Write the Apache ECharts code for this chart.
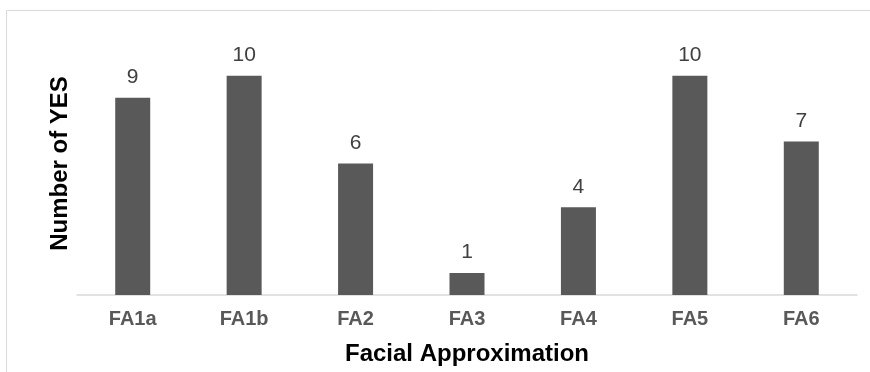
<!DOCTYPE html>
<html><head><meta charset="utf-8">
<style>html,body{margin:0;padding:0;background:#fff;}#c{width:870px;height:372px;}</style>
<script src="https://cdn.jsdelivr.net/npm/echarts@6/dist/echarts.min.js"></script>
</head><body><div id="c"></div>
<script>
const categories = ['FA1a','FA1b','FA2','FA3','FA4','FA5','FA6'];
const values = [9,10,6,1,4,10,7];
const chart = echarts.init(document.getElementById('c'));
chart.setOption({
  animation:false,
  graphic:[{type:'rect',shape:{x:6.5,y:10.5,width:900,height:400},style:{fill:'none',stroke:'#d9d9d9',lineWidth:1},silent:true}],
  grid:{left:77,right:13,top:32,bottom:77},
  xAxis:{type:'category',data:categories,
    axisLine:{lineStyle:{color:'#d9d9d9',width:1.5}},axisTick:{show:false},
    axisLabel:{color:'#595959',fontFamily:'Liberation Sans, Arial',fontWeight:'bold',fontSize:20,margin:14},
    name:'Facial Approximation',nameLocation:'middle',nameGap:47,
    nameTextStyle:{color:'#000',fontFamily:'Liberation Sans, Arial',fontWeight:'bold',fontSize:24}},
  yAxis:{type:'value',min:0,max:12,splitLine:{show:false},axisLabel:{show:false},axisLine:{show:false},axisTick:{show:false},
    name:'Number of YES',nameLocation:'middle',nameGap:5,
    nameTextStyle:{color:'#000',fontFamily:'Liberation Sans, Arial',fontWeight:'bold',fontSize:24}},
  series:[{type:'bar',data:values,barWidth:35,itemStyle:{color:'#595959'},
    label:{show:true,position:'top',distance:10,color:'#404040',fontFamily:'Liberation Sans, Arial',fontSize:21}}]
});
</script></body></html>
